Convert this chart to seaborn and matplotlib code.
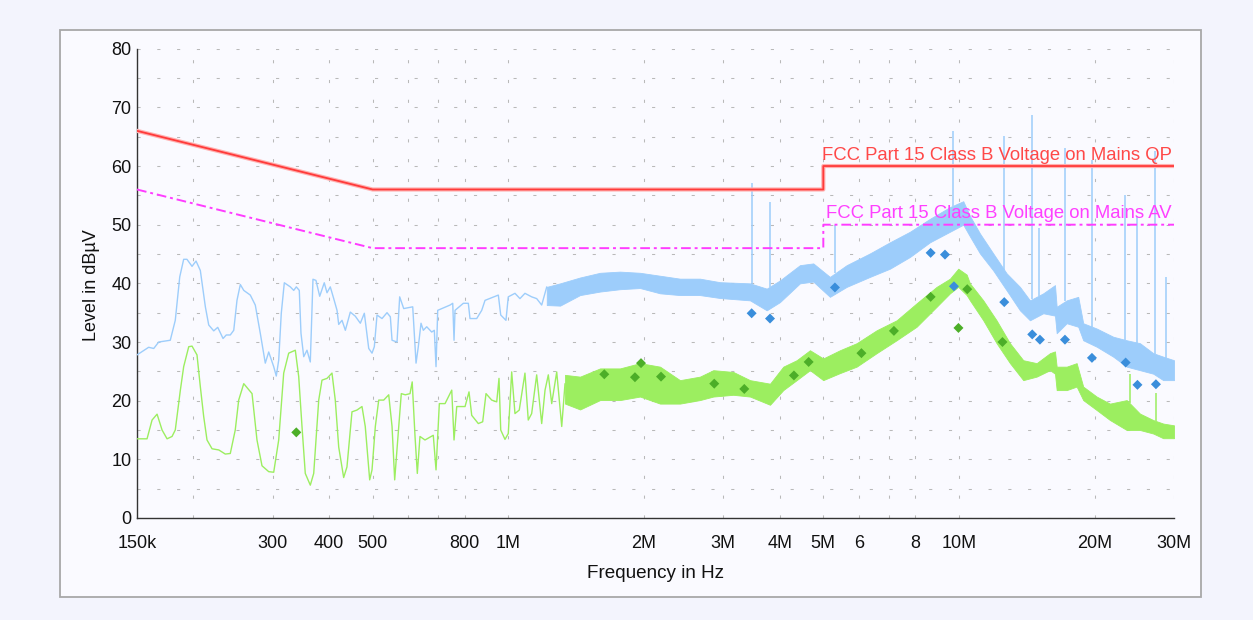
import numpy as np
import matplotlib
matplotlib.use("Agg")
import matplotlib.pyplot as plt
from matplotlib.patches import Rectangle
from matplotlib.ticker import NullFormatter
import seaborn as sns

# ---------------- data (frequencies in kHz, levels in dBµV) ----------------
peak_line_f = [150, 159.2, 163.4, 167.6, 177.8, 182.4, 186.6, 190.4, 193.6, 198.7, 202.8, 207.3,
               212.7, 216.4, 222.0, 226.6, 232.8, 236.7, 241.6, 245.9, 250.0, 254.3, 258.8, 267.6,
               274.5, 281.6, 288.9, 294.0, 301.6, 305.6, 309.4, 313.5, 318.4, 328.3, 334.1, 338.5,
               343.7, 346.7, 351.6, 357.5, 363.6, 368.6, 374.3, 381.5, 390.5, 396.0, 402.7, 409.8,
               416.8, 420.4, 427.6, 434.9, 446.1, 457.6, 469.5, 479.2, 490.1, 498.4, 504.3, 511.3,
               524.5, 538.1, 547.3, 552.1, 566.3, 574.1, 586.0, 613.6, 624.1, 631.4, 640.2, 647.8,
               659.1, 676.1, 685.2, 691.2, 697.2, 742.5, 752.8, 757.8, 761.7, 794.7, 815.2, 822.3,
               850.9, 873.0, 887.8, 950.3, 962.0, 988.1, 999.8, 1034.6, 1061.3, 1088.8, 1126.7,
               1156, 1186, 1217]
peak_line_db = [27.8, 29.1, 28.9, 30.0, 30.3, 33.7, 41.1, 44.1, 44.1, 42.9, 43.8, 42.2,
                36.0, 32.9, 31.9, 32.5, 30.6, 31.2, 31.2, 32.0, 37.1, 39.8, 38.8, 38.0,
                36.3, 31.5, 26.4, 28.3, 25.8, 24.2, 26.9, 34.9, 40.1, 39.4, 38.8, 39.4,
                38.8, 31.5, 27.5, 28.6, 26.6, 40.7, 40.5, 37.8, 40.1, 38.4, 39.4, 37.4,
                35.4, 33.0, 33.7, 32.0, 35.1, 34.4, 33.2, 34.9, 28.9, 28.1, 29.2, 34.6,
                34.0, 35.0, 34.3, 30.3, 30.0, 37.7, 35.7, 36.0, 26.4, 29.2, 33.2, 32.0,
                32.6, 31.7, 32.0, 25.8, 35.4, 36.3, 36.6, 30.3, 35.4, 36.6, 36.6, 34.0,
                34.0, 35.4, 37.1, 38.0, 34.6, 33.7, 37.7, 38.3, 37.4, 38.3, 37.7,
                37.4, 36.3, 39.4]

peak_band_f = [1217, 1303, 1443, 1598, 1769, 1960, 2171, 2404, 2662, 2949, 3438, 3745, 4006,
               4437, 4750, 5172, 5634, 6345, 7028, 7785, 8622, 9550, 10221, 10576, 11131,
               11912, 12758, 13655, 14370, 15382, 16331, 16474, 17337, 18390, 18866, 20210,
               21994, 23555, 25208, 26980, 28394, 30000]
peak_band_hi = [39.4, 40.0, 41.0, 41.8, 42.0, 41.8, 41.3, 40.8, 40.8, 40.2, 40.0, 39.1, 40.5,
                43.1, 43.4, 41.1, 43.1, 45.1, 47.0, 48.8, 51.0, 53.0, 54.0, 51.5, 48.5,
                45.1, 41.7, 39.4, 37.1, 38.3, 39.7, 36.0, 37.1, 37.7, 33.2, 32.3,
                30.9, 30.3, 29.8, 28.1, 27.5, 26.9]
peak_band_lo = [36.3, 36.2, 38.0, 38.6, 39.0, 39.2, 38.3, 38.0, 38.0, 37.5, 37.1, 35.4, 36.8,
                40.0, 40.3, 37.7, 39.4, 41.1, 42.5, 44.5, 47.0, 48.8, 50.0, 48.0, 45.1,
                42.2, 38.8, 35.4, 33.7, 34.9, 34.5, 31.5, 33.2, 32.6, 30.3, 29.2,
                27.5, 25.8, 25.2, 24.6, 23.5, 23.5]

peak_spike_f = [3467, 3808, 5319, 9712, 12603, 14540, 15045, 17186, 19699, 23355, 24827, 27285, 28790]
peak_spike_db = [57.1, 53.9, 50.0, 66.0, 65.2, 68.7, 49.5, 63.0, 61.0, 55.0, 51.5, 62.5, 41.1]

avg_line_f = [150, 157.9, 162.0, 166.2, 170.5, 174.9, 179.4, 182.4, 187.2, 190.4, 195.4, 198.7,
              203.8, 207.3, 210.9, 214.5, 220.1, 227.8, 235.5, 241.6, 247.8, 252.2, 258.8, 270.0,
              276.9, 284.1, 294.0, 301.6, 309.4, 317.4, 325.6, 336.8, 342.7, 348.5, 354.4, 363.6,
              370.0, 379.6, 386.0, 396.0, 406.2, 413.1, 420.4, 431.2, 438.5, 449.9, 461.5, 473.5,
              481.5, 492.5, 498.4, 506.9, 515.8, 529.1, 542.8, 552.1, 559.6, 569.1, 578.8, 590.8,
              605.2, 612.0, 620.9, 628.2, 636.8, 653.3, 681.6, 691.2, 703.0, 723.8, 749.0, 757.8,
              768.4, 801.7, 818.1, 829.5, 857.9, 877.3, 892.3, 918.7, 942.5, 953.6, 962.0, 983.2,
              999.8, 1017.4, 1034.6, 1057.5, 1088.8, 1107.3, 1126.7, 1156, 1186, 1206.4, 1226.8,
              1248.3, 1280.6, 1313.8, 1336]
avg_line_db = [13.5, 13.5, 16.7, 17.7, 15.0, 13.5, 13.9, 15.0, 21.8, 25.8, 29.2, 29.3,
               27.8, 22.4, 17.3, 13.3, 11.8, 11.6, 10.9, 11.0, 15.0, 20.1, 22.9, 21.2,
               13.3, 8.9, 7.9, 7.8, 13.3, 24.7, 28.1, 28.6, 24.1, 15.6, 7.6, 5.6,
               7.6, 20.1, 23.5, 23.8, 24.7, 20.1, 12.1, 6.9, 8.7, 18.1, 18.4, 19.0,
               15.6, 6.5, 8.2, 15.6, 20.1, 20.1, 21.0, 15.6, 6.5, 13.9, 21.2, 21.0,
               21.2, 23.2, 13.9, 7.6, 13.9, 13.3, 14.1, 8.2, 19.5, 19.5, 21.8, 13.3,
               19.0, 19.0, 21.5, 17.5, 16.1, 16.4, 21.2, 20.1, 19.8, 23.8, 15.0, 13.4,
               14.4, 24.9, 17.8, 18.4, 24.7, 16.7, 17.8, 24.4, 16.1, 21.8, 24.4,
               19.5, 24.9, 15.6, 22.9]

avg_band_f = [1336, 1443, 1598, 1769, 1960, 2171, 2404, 2662, 2850, 3156, 3438, 3808, 4075,
              4364, 4670, 4998, 5444, 5929, 6566, 7272, 8054, 8920, 9550, 9963, 10400, 10576,
              11321, 12117, 12975, 13887, 14872, 15918, 16331, 16474, 17337, 18243, 18866,
              20210, 21627, 23555, 25208, 26980, 28394, 30000]
avg_band_hi = [24.4, 24.1, 25.5, 25.5, 26.4, 25.8, 23.5, 24.1, 25.2, 24.9, 23.5, 22.9, 25.8,
               26.9, 28.6, 27.2, 28.6, 29.8, 32.0, 33.7, 36.6, 39.4, 40.8, 42.5, 41.5, 40.0,
               37.1, 33.7, 29.8, 26.9, 26.4, 28.1, 28.4, 25.8, 25.8, 26.4, 22.4,
               20.7, 19.5, 20.1, 17.8, 16.7, 16.1, 15.8]
avg_band_lo = [19.5, 18.5, 20.1, 20.1, 20.7, 19.5, 19.5, 20.1, 20.7, 21.0, 20.7, 19.3, 21.8,
               23.5, 25.2, 23.5, 24.7, 25.8, 28.1, 30.3, 32.6, 36.0, 38.3, 39.4, 38.0, 37.1,
               33.7, 29.8, 26.4, 23.5, 24.1, 25.2, 24.6, 21.8, 21.8, 22.4, 20.1,
               18.4, 16.7, 15.0, 15.0, 14.4, 13.6, 13.6]

avg_spike_f = [23953, 27300]
avg_spike_db = [24.6, 21.3]

qp_meas_f = [3467, 3808, 5306, 8652, 9310, 9746, 12603, 14540, 15122, 17186, 19726, 23436, 24889, 27353]
qp_meas_db = [34.9, 34.0, 39.3, 45.2, 44.9, 39.5, 36.8, 31.3, 30.4, 30.4, 27.3, 26.5, 22.7, 22.8]

av_meas_f = [338.5, 1633, 1910, 1970, 2182, 2864, 3339, 4303, 4639, 6075, 7172, 8652, 9973, 10432, 12488]
av_meas_db = [14.6, 24.5, 24.0, 26.4, 24.1, 22.9, 22.0, 24.3, 26.6, 28.1, 31.9, 37.7, 32.4, 39.0, 30.0]

qp_limit_f = [150, 500, 5000, 5000, 30000]
qp_limit_db = [66, 56, 56, 60, 60]
av_limit_f = [150, 500, 5000, 5000, 30000]
av_limit_db = [56, 46, 46, 50, 50]
qp_limit_label = "FCC Part 15 Class B Voltage on Mains QP"
av_limit_label = "FCC Part 15 Class B Voltage on Mains AV"

xtick_major = [150e3, 300e3, 400e3, 500e3, 800e3, 1e6, 2e6, 3e6, 4e6, 5e6, 6e6, 8e6, 10e6, 20e6, 30e6]
xtick_labels = ["150k", "300", "400", "500", "800", "1M", "2M", "3M", "4M", "5M", "6", "8", "10M", "20M", "30M"]
xtick_minor = [200e3, 600e3, 700e3, 7e6]
ytick_major = list(range(0, 81, 10))
ytick_minor = list(range(5, 80, 10))

# ---------------- style ----------------
sns.set_style("white")
plt.rcParams["font.family"] = ["Liberation Sans", "DejaVu Sans"]

BLUE = "#9dcdfb"
GREEN = "#9cee60"
QP_MARK = "#3a8edb"
AV_MARK = "#4cae28"

fig = plt.figure(figsize=(12.53, 6.2), dpi=100, facecolor="#f3f4fd")
fig.patches.append(Rectangle((59.5 / 1253, 1 - 597 / 620), (1201 - 59.5) / 1253, (597 - 30) / 620,
                             transform=fig.transFigure, facecolor="#fafaff", edgecolor="#a8a8a8",
                             lw=1.3, zorder=-5))
ax = fig.add_axes([137 / 1253, 1 - 518 / 620, 1037 / 1253, 469.3 / 620])
ax.set_zorder(2)
ax.set_facecolor("none")
ax.set_xscale("log")

k = 1e3
# peak trace
sns.lineplot(x=np.array(peak_line_f) * k, y=peak_line_db, ax=ax, sort=False, estimator=None,
             color=BLUE, lw=1.0, zorder=3)
ax.fill_between(np.array(peak_band_f) * k, peak_band_lo, peak_band_hi, color=BLUE, lw=0.6,
                edgecolor=BLUE, zorder=3)
base = np.interp(np.log10(peak_spike_f), np.log10(peak_band_f), peak_band_hi)
ax.vlines(np.array(peak_spike_f) * k, base, peak_spike_db, color=BLUE, lw=1.1, zorder=3)

# average trace
sns.lineplot(x=np.array(avg_line_f) * k, y=avg_line_db, ax=ax, sort=False, estimator=None,
             color=GREEN, lw=1.0, zorder=4)
ax.fill_between(np.array(avg_band_f) * k, avg_band_lo, avg_band_hi, color=GREEN, lw=0.6,
                edgecolor=GREEN, zorder=4)
base = np.interp(np.log10(avg_spike_f), np.log10(avg_band_f), avg_band_hi)
ax.vlines(np.array(avg_spike_f) * k, base, avg_spike_db, color=GREEN, lw=1.1, zorder=4)

# limit lines
sns.lineplot(x=np.array(qp_limit_f) * k, y=qp_limit_db, ax=ax, sort=False, estimator=None,
             color="#ffb0b0", lw=3.0, zorder=5)
sns.lineplot(x=np.array(qp_limit_f) * k, y=qp_limit_db, ax=ax, sort=False, estimator=None,
             color="#ff3a3a", lw=1.3, zorder=5)
av_line = sns.lineplot(x=np.array(av_limit_f) * k, y=av_limit_db, ax=ax, sort=False, estimator=None,
                       color="#ff3cff", lw=1.4, zorder=5)
av_line.lines[-1].set_linestyle((0, (5, 2, 1.5, 2)))

# measured points
sns.scatterplot(x=np.array(qp_meas_f) * k, y=qp_meas_db, ax=ax, marker="D", s=26,
                color=QP_MARK, edgecolor="none", zorder=6)
sns.scatterplot(x=np.array(av_meas_f) * k, y=av_meas_db, ax=ax, marker="D", s=26,
                color=AV_MARK, edgecolor="none", zorder=6)

ax.text(29.7e6, 60.35, qp_limit_label, ha="right", va="bottom", color="#ff4848", fontsize=13.3, zorder=7)
ax.text(29.7e6, 50.4, av_limit_label, ha="right", va="bottom", color="#ff40ff", fontsize=13.3, zorder=7)

# axes
ax.set_xlim(150e3, 30e6)
ax.set_ylim(0, 80)
ax.set_xticks(xtick_major, xtick_labels)
ax.set_xticks(xtick_minor, minor=True)
ax.xaxis.set_minor_formatter(NullFormatter())
ax.set_yticks(ytick_major, [str(v) for v in ytick_major])
ax.set_yticks(ytick_minor, minor=True)
ax.grid(True, which="both", color="#b9b9b9", lw=0.75, linestyle=(0, (3, 16)), zorder=1)
ax.set_axisbelow(True)
for s in ["top", "right"]:
    ax.spines[s].set_visible(False)
for s in ["left", "bottom"]:
    ax.spines[s].set_color("#333333")
    ax.spines[s].set_linewidth(1.0)
ax.tick_params(axis="both", which="both", direction="inout", length=5, width=0.9,
               color="#333333", labelsize=13, labelcolor="#111111")
ax.tick_params(axis="x", which="both", pad=10)
ax.tick_params(axis="y", which="both", pad=1.5)
ax.set_xlabel("")
ax.set_ylabel("")

fig.text(655.5 / 1253, 1 - 574 / 620, "Frequency in Hz", ha="center", va="center", fontsize=13.6, color="#111111")
fig.text(92 / 1253, 1 - 285 / 620, "Level in dBµV", ha="center", va="center", rotation=90,
         fontsize=13, color="#111111")

fig.savefig("out.png", dpi=100, facecolor=fig.get_facecolor())
